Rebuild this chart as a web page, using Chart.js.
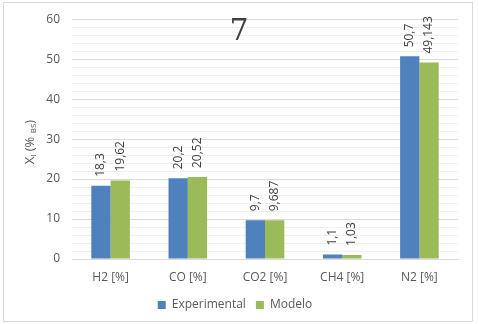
<!DOCTYPE html>
<html>
<head>
<meta charset="utf-8">
<script src="https://cdn.jsdelivr.net/npm/chart.js@4/dist/chart.umd.min.js"></script>
<style>
  html, body { margin: 0; padding: 0; background: #fff; }
  #wrap { width: 479px; height: 324px; }
</style>
</head>
<body>
<div id="wrap"><canvas id="chart" width="479" height="324"></canvas></div>
<script>
const categories = ["H2 [%]", "CO [%]", "CO2 [%]", "CH4 [%]", "N2 [%]"];
const experimental = [18.3, 20.2, 9.7, 1.1, 50.7];
const modelo = [19.62, 20.52, 9.687, 1.03, 49.143];
const experimentalLabels = ["18,3", "20,2", "9,7", "1,1", "50,7"];
const modeloLabels = ["19,62", "20,52", "9,687", "1,03", "49,143"];
const yMax = 60;

const fontFamily = "'Open Sans', 'Noto Sans', sans-serif";
const textColor = "#595959";

// etiquetas giradas, titulo "7", titulo del eje Y y borde exterior
const extrasPlugin = {
  id: "extras",
  afterDatasetsDraw(chart) {
    const ctx = chart.ctx;
    const labelSets = [experimentalLabels, modeloLabels];
    ctx.save();
    ctx.font = "12px " + fontFamily;
    ctx.fillStyle = "#404040";
    chart.data.datasets.forEach((ds, i) => {
      const meta = chart.getDatasetMeta(i);
      meta.data.forEach((bar, j) => {
        ctx.save();
        ctx.translate(bar.x, bar.y - 9);
        ctx.rotate(-Math.PI / 2);
        ctx.textAlign = "left";
        ctx.textBaseline = "middle";
        ctx.fillText(labelSets[i][j], 0, 0);
        ctx.restore();
      });
    });
    ctx.restore();
  },
  afterDraw(chart) {
    const ctx = chart.ctx;
    ctx.save();
    // titulo
    ctx.font = "30px 'DejaVu Serif', 'Liberation Serif', serif";
    ctx.fillStyle = "#404040";
    ctx.textAlign = "center";
    ctx.textBaseline = "middle";
    ctx.fillText("7", 239, 32);

    // titulo eje Y con subindices
    const cy = (chart.chartArea.top + chart.chartArea.bottom) / 2 + 3;
    ctx.translate(30, cy);
    ctx.rotate(-Math.PI / 2);
    ctx.fillStyle = textColor;
    ctx.textBaseline = "middle";
    const big = "13px " + fontFamily;
    const small = "8px " + fontFamily;
    const parts = [["X", big, 0], ["I", small, 4], [" (% ", big, 0], ["BS", small, 4], [")", big, 0]];
    let total = 0;
    parts.forEach(p => { ctx.font = p[1]; total += ctx.measureText(p[0]).width; });
    let x = -total / 2;
    ctx.textAlign = "left";
    parts.forEach(p => {
      ctx.font = p[1];
      ctx.fillText(p[0], x, p[2]);
      x += ctx.measureText(p[0]).width;
    });
    ctx.restore();

    // borde
    ctx.save();
    ctx.strokeStyle = "#d9d9d9";
    ctx.lineWidth = 1;
    ctx.strokeRect(3.5, 2.5, 469, 319);
    ctx.restore();
  }
};

const myChart = document.getElementById("chart");
new Chart(myChart, {
  type: "bar",
  data: {
    labels: categories,
    datasets: [
      { label: "Experimental", data: experimental, backgroundColor: "#4f81bd", borderWidth: 0 },
      { label: "Modelo", data: modelo, backgroundColor: "#9bbb59", borderWidth: 0 }
    ]
  },
  options: {
    responsive: false,
    animation: false,
    events: [],
    layout: { padding: { left: 12, right: 21, top: 18, bottom: 3 } },
    datasets: { bar: { categoryPercentage: 0.5, barPercentage: 1 } },
    plugins: {
      title: { display: false },
      tooltip: { enabled: false },
      legend: {
        position: "bottom",
        labels: {
          color: textColor,
          font: { family: fontFamily, size: 12 },
          boxWidth: 8,
          boxHeight: 8,
          padding: 10
        }
      }
    },
    scales: {
      x: {
        grid: { display: false },
        border: { color: "#d9d9d9" },
        ticks: { color: textColor, font: { family: fontFamily, size: 12 }, padding: 3 },
        afterFit: (scale) => { scale.height = 30; }
      },
      y: {
        min: 0,
        max: yMax,
        afterFit: (scale) => { scale.width = 60; },
        border: { display: false },
        grid: {
          drawTicks: false,
          color: (c) => (c.tick && c.tick.value % 10 === 0 ? "#d9d9d9" : "#f0f0f0")
        },
        ticks: {
          stepSize: 2,
          autoSkip: false,
          padding: 12,
          color: textColor,
          font: { family: fontFamily, size: 12 },
          callback: (v) => (v % 10 === 0 ? v : "")
        }
      }
    }
  },
  plugins: [extrasPlugin]
});
</script>
</body>
</html>
